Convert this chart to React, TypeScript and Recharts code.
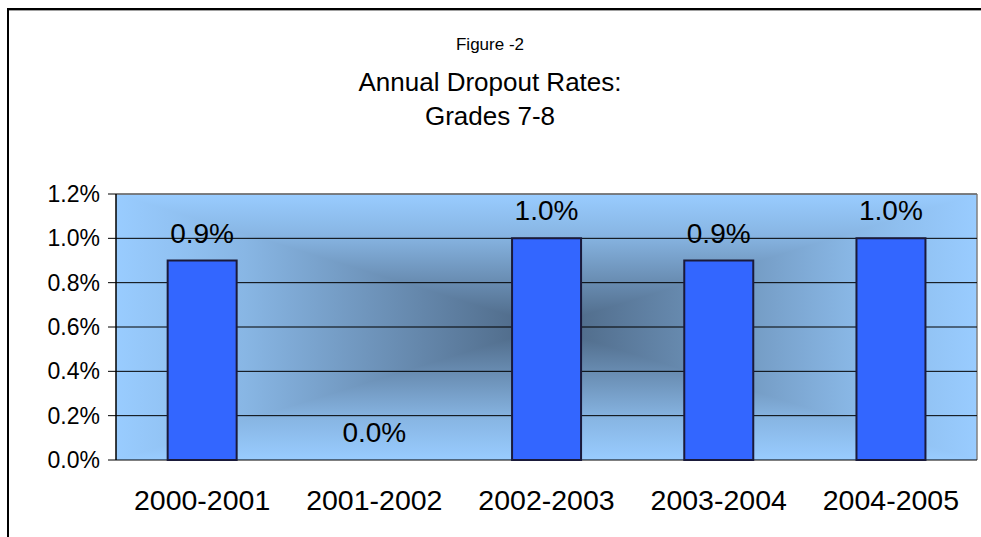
import React from 'react';
import { ComposedChart, Bar, Line, XAxis, YAxis, CartesianGrid, LabelList, ReferenceLine } from 'recharts';

const years = ['2000-2001', '2001-2002', '2002-2003', '2003-2004', '2004-2005'];
const rates = [0.009, 0.0, 0.01, 0.009, 0.01];
const yTicks = [0, 0.002, 0.004, 0.006, 0.008, 0.01, 0.012];
const bounds = [0, 1, 2, 3, 4, 5];

const data = years.map((year, i) => ({ year, rate: rates[i] }));

const W = 981;
const H = 537;
// plot box
const L = 116;
const T = 194;
const R = 977;
const B = 460;
const CX = (L + R) / 2;
const CY = (T + B) / 2;

const FONT = '"Liberation Sans", Arial, sans-serif';
const pct = (v: any) => `${(Number(v) * 100).toFixed(1)}%`;

function Backdrop() {
  const light = '#99ccff';
  const mid = '#88b6e4';
  const dark = '#4b6582';
  const stops = (
    <>
      <stop offset="0" stopColor={light} />
      <stop offset="0.3" stopColor={mid} />
      <stop offset="1" stopColor={dark} />
    </>
  );
  return (
    <svg width={W} height={H} style={{ position: 'absolute', left: 0, top: 0 }}>
      <defs>
        <linearGradient id="gTop" gradientUnits="userSpaceOnUse" x1={0} y1={T} x2={0} y2={CY}>{stops}</linearGradient>
        <linearGradient id="gBot" gradientUnits="userSpaceOnUse" x1={0} y1={B} x2={0} y2={CY}>{stops}</linearGradient>
        <linearGradient id="gLeft" gradientUnits="userSpaceOnUse" x1={L} y1={0} x2={CX} y2={0}>{stops}</linearGradient>
        <linearGradient id="gRight" gradientUnits="userSpaceOnUse" x1={R} y1={0} x2={CX} y2={0}>{stops}</linearGradient>
        <clipPath id="plotClip">
          <rect x={L} y={T} width={R - L} height={B - T} />
        </clipPath>
      </defs>
      <g clipPath="url(#plotClip)">
        <polygon points={`${L},${T} ${R},${T} ${CX},${CY}`} fill="url(#gTop)" stroke="url(#gTop)" strokeWidth={1.5} />
        <polygon points={`${L},${B} ${R},${B} ${CX},${CY}`} fill="url(#gBot)" stroke="url(#gBot)" strokeWidth={1.5} />
        <polygon points={`${L},${T} ${L},${B} ${CX},${CY}`} fill="url(#gLeft)" stroke="url(#gLeft)" strokeWidth={1.5} />
        <polygon points={`${R},${T} ${R},${B} ${CX},${CY}`} fill="url(#gRight)" stroke="url(#gRight)" strokeWidth={1.5} />
      </g>
      <line x1={R} y1={T} x2={R} y2={B} stroke="#808080" strokeWidth={1.5} />
      {/* outer frame: only its top and left edges fall inside the picture */}
      <path d={`M8,${H} L8,9 L${W},9`} fill="none" stroke="#000" strokeWidth={2} />
      <line x1={9} y1={10.5} x2={W} y2={10.5} stroke="#a0a0a0" strokeWidth={1} />
    </svg>
  );
}

const titleStyle: React.CSSProperties = {
  position: 'absolute',
  left: 0,
  width: 980,
  textAlign: 'center',
  fontFamily: FONT,
  color: '#000',
  lineHeight: 1,
};

export default function App() {
  return (
    <div style={{ position: 'relative', width: W, height: H, overflow: 'hidden', background: '#fff' }}>
      <style>{'html,body{margin:0;overflow:hidden}'}</style>
      <Backdrop />
      <div style={{ ...titleStyle, top: 36, fontSize: 17 }}>Figure -2</div>
      <div style={{ ...titleStyle, top: 69, fontSize: 26 }}>Annual Dropout Rates:</div>
      <div style={{ ...titleStyle, top: 103, fontSize: 26 }}>Grades 7-8</div>
      <div style={{ position: 'absolute', left: 0, top: 0 }}>
        <ComposedChart
          width={W}
          height={H}
          data={data}
          margin={{ top: T, right: W - R, bottom: 17, left: 0 }}
          barCategoryGap="30%"
        >
          <CartesianGrid vertical={false} stroke="#000" strokeWidth={1} />
          <XAxis
            xAxisId="edge"
            type="number"
            domain={[0, 5]}
            ticks={bounds}
            allowDataOverflow
            height={0}
            tick={() => <g />}
            tickSize={8}
            tickLine={{ stroke: '#000' }}
            axisLine={{ stroke: '#000', strokeWidth: 1.5 }}
          />
          <XAxis
            dataKey="year"
            height={60}
            tickLine={false}
            axisLine={false}
            tickMargin={24}
            tick={{ fill: '#000', fontSize: 28.5, fontFamily: FONT }}
          />
          <YAxis
            width={L}
            domain={[0, 0.012]}
            ticks={yTicks}
            tickFormatter={pct}
            tickSize={8}
            tickMargin={8}
            tickLine={{ stroke: '#000' }}
            axisLine={{ stroke: '#000', strokeWidth: 1.5 }}
            tick={{ fill: '#000', fontSize: 23, fontFamily: FONT }}
          />
          <ReferenceLine y={0.012} stroke="#808080" strokeWidth={1.5} />
          <Bar dataKey="rate" fill="#3366ff" stroke="#1a1a3a" strokeWidth={2} isAnimationActive={false} />
          <Line
            dataKey="rate"
            stroke="none"
            dot={false}
            activeDot={false}
            legendType="none"
            isAnimationActive={false}
          >
            <LabelList
              dataKey="rate"
              position="top"
              offset={18}
              formatter={pct}
              style={{ fill: '#000', fontSize: 28, fontFamily: FONT }}
            />
          </Line>
        </ComposedChart>
      </div>
    </div>
  );
}
